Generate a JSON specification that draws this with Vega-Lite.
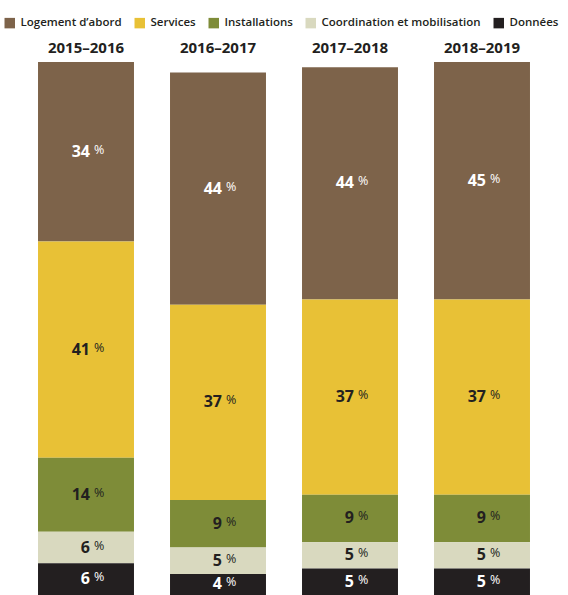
{
  "$schema": "https://vega.github.io/schema/vega-lite/v6.json",
  "autosize": "none",
  "width": 568,
  "height": 533,
  "padding": {"left": 0, "top": 62, "right": 0, "bottom": 0},
  "background": "white",
  "config": {"view": {"stroke": null}, "font": "Open Sans"},
  "data": {"values": [
    {"year": "2015–2016", "cat": "Logement d’abord", "value": 34, "order": 5},
    {"year": "2015–2016", "cat": "Services", "value": 41, "order": 4},
    {"year": "2015–2016", "cat": "Installations", "value": 14, "order": 3},
    {"year": "2015–2016", "cat": "Coordination et mobilisation", "value": 6, "order": 2},
    {"year": "2015–2016", "cat": "Données", "value": 6, "order": 1},
    {"year": "2016–2017", "cat": "Logement d’abord", "value": 44, "order": 5},
    {"year": "2016–2017", "cat": "Services", "value": 37, "order": 4},
    {"year": "2016–2017", "cat": "Installations", "value": 9, "order": 3},
    {"year": "2016–2017", "cat": "Coordination et mobilisation", "value": 5, "order": 2},
    {"year": "2016–2017", "cat": "Données", "value": 4, "order": 1},
    {"year": "2017–2018", "cat": "Logement d’abord", "value": 44, "order": 5},
    {"year": "2017–2018", "cat": "Services", "value": 37, "order": 4},
    {"year": "2017–2018", "cat": "Installations", "value": 9, "order": 3},
    {"year": "2017–2018", "cat": "Coordination et mobilisation", "value": 5, "order": 2},
    {"year": "2017–2018", "cat": "Données", "value": 5, "order": 1},
    {"year": "2018–2019", "cat": "Logement d’abord", "value": 45, "order": 5},
    {"year": "2018–2019", "cat": "Services", "value": 37, "order": 4},
    {"year": "2018–2019", "cat": "Installations", "value": 9, "order": 3},
    {"year": "2018–2019", "cat": "Coordination et mobilisation", "value": 5, "order": 2},
    {"year": "2018–2019", "cat": "Données", "value": 5, "order": 1}
  ]},
  "transform": [
    {"stack": "value", "groupby": ["year"], "sort": [{"field": "order"}], "as": ["v0", "v1"]},
    {"calculate": "(datum.v0 + datum.v1) / 2", "as": "mid"}
  ],
  "encoding": {
    "x": {
      "field": "year", "type": "nominal",
      "scale": {"paddingInner": 0.273, "paddingOuter": 0.288},
      "axis": {
        "orient": "top", "title": null, "ticks": false, "domain": false,
        "labelAngle": 0, "labelFontSize": 15, "labelFontWeight": "bold",
        "labelColor": "#231f20", "labelPadding": 7, "labelFont": "Open Sans"
      }
    }
  },
  "layer": [
    {
      "mark": {"type": "bar"},
      "encoding": {
        "y": {"field": "v0", "type": "quantitative", "scale": {"domain": [0, 101], "nice": false}, "axis": null},
        "y2": {"field": "v1"},
        "color": {
          "field": "cat", "type": "nominal",
          "scale": {
            "domain": ["Logement d’abord", "Services", "Installations", "Coordination et mobilisation", "Données"],
            "range": ["#7d634a", "#e8c136", "#7e8c38", "#d9d9bf", "#231f20"]
          },
          "legend": {
            "orient": "none", "legendX": 4, "legendY": -45,
            "direction": "horizontal", "title": null,
            "symbolType": "square", "symbolSize": 110, "symbolStrokeWidth": 0,
            "labelFontSize": 11.5, "labelFontWeight": 600, "labelColor": "#231f20", "labelFont": "Open Sans",
            "labelLimit": 0, "columnPadding": 12, "labelOffset": 5
          }
        }
      }
    },
    {
      "mark": {"type": "text", "fontSize": 16, "fontWeight": "bold", "baseline": "middle", "align": "right", "dx": 4},
      "encoding": {
        "y": {"field": "mid", "type": "quantitative"},
        "text": {"field": "value", "type": "quantitative"},
        "color": {
          "condition": {"test": "datum.cat === 'Logement d’abord' || datum.cat === 'Données'", "value": "white"},
          "value": "#231f20"
        }
      }
    },
    {
      "mark": {"type": "text", "fontSize": 12.5, "fontWeight": "normal", "baseline": "middle", "align": "left", "dx": 8, "dy": -2},
      "encoding": {
        "y": {"field": "mid", "type": "quantitative"},
        "text": {"value": "%"},
        "color": {
          "condition": {"test": "datum.cat === 'Logement d’abord' || datum.cat === 'Données'", "value": "white"},
          "value": "#231f20"
        }
      }
    }
  ]
}
